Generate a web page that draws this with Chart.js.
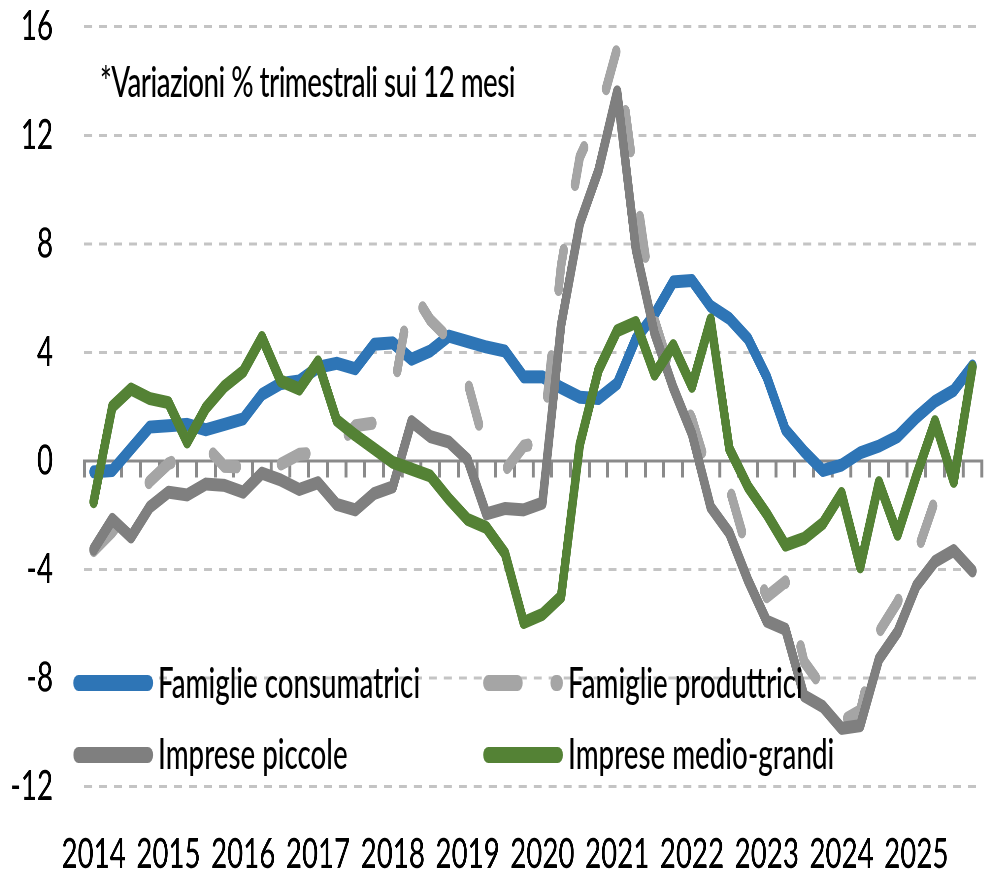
<!DOCTYPE html>
<html lang="it">
<head>
<meta charset="utf-8">
<title>Prestiti per settore</title>
<script src="https://cdn.jsdelivr.net/npm/chart.js@4.4.1/dist/chart.umd.min.js"></script>
<style>
  html, body { margin: 0; padding: 0; background: #fff; overflow: hidden; }
  /* the source image is squeezed horizontally: draw wide, then compress */
  #stage { position: absolute; left: 0; top: 0; width: 1516px; height: 874px;
           transform: scaleX(0.66); transform-origin: 0 0;
           font-family: Lato, sans-serif; font-weight: 500; color: #000; }
  #stage canvas { position: absolute; left: 0; top: 0; }
  .txt { position: absolute; font-size: 42px; line-height: 42px; white-space: nowrap; }
  #note { letter-spacing: -0.8px; }
  .swatch { position: absolute; overflow: visible; }
</style>
</head>
<body>
<div id="stage">
  <canvas id="chart" width="1516" height="874"></canvas>
  <div class="txt" id="note" style="left:151.5px; top:59.5px">*Variazioni % trimestrali sui 12 mesi</div>
  <div id="legend"></div>
</div>
<script>
(function () {
  const years = ['2014', '2015', '2016', '2017', '2018', '2019', '2020', '2021', '2022', '2023', '2024', '2025'];
  const quarters = ['T1', 'T2', 'T3', 'T4'];
  const yTicks = [-12, -8, -4, 0, 4, 8, 12, 16];

  // variazioni % sui 12 mesi, dati trimestrali 2014 T1 - 2025 T4
  const famiglieConsumatrici = [
    -0.4, -0.35, 0.45, 1.25, 1.3, 1.35, 1.15, 1.35, 1.55, 2.45, 2.85, 2.95,
    3.45, 3.6, 3.4, 4.3, 4.35, 3.75, 4.05, 4.6, 4.4, 4.2, 4.05, 3.1,
    3.1, 2.7, 2.35, 2.3, 2.85, 4.5, 5.4, 6.6, 6.65, 5.7, 5.25, 4.5,
    3.1, 1.15, 0.35, -0.35, -0.15, 0.3, 0.55, 0.9, 1.6, 2.2, 2.6, 3.5,
  ];
  const famiglieProduttrici = [
    -3.3, -2.6, -1.7, -0.75, -0.1, 0.2, 0.55, -0.2, -0.22, -0.35, -0.12, 0.25,
    0.3, 0.5, 1.3, 1.4, 2.4, 6.3, 5.2, 4.5, 2.9, 0.35, -0.35, 0.55,
    0.7, 7.2, 11.2, 12.7, 15.2, 10.0, 5.2, 3.0, 1.55, -0.7, -1.0, -3.4,
    -5.0, -4.45, -7.4, -8.35, -9.6, -9.2, -6.3, -5.2, -3.45, -1.45, -0.8, null,
  ];
  const impresePiccole = [
    -3.25, -2.15, -2.8, -1.7, -1.15, -1.25, -0.85, -0.9, -1.15, -0.45, -0.7, -1.05,
    -0.8, -1.6, -1.8, -1.2, -0.95, 1.45, 0.9, 0.7, 0.05, -1.95, -1.75, -1.8,
    -1.55, 5.0, 8.75, 10.7, 13.6, 7.8, 4.7, 2.7, 1.0, -1.7, -2.65, -4.4,
    -5.9, -6.2, -8.65, -9.05, -9.85, -9.75, -7.3, -6.3, -4.6, -3.7, -3.3, -4.05,
  ];
  const impreseMedioGrandi = [
    -1.5, 2.0, 2.65, 2.3, 2.15, 0.7, 1.95, 2.75, 3.3, 4.55, 2.95, 2.65,
    3.65, 1.5, 0.95, 0.45, -0.05, -0.3, -0.55, -1.4, -2.15, -2.45, -3.4, -5.95,
    -5.65, -5.0, 0.6, 3.35, 4.8, 5.1, 3.2, 4.25, 2.75, 5.2, 0.45, -0.95,
    -1.95, -3.1, -2.85, -2.3, -1.2, -3.9, -0.8, -2.7, -0.55, 1.45, -0.75, 3.45,
  ];

  const labels = years.flatMap((y) => quarters.map((q) => `${y} ${q}`));

  // order: the last series (green) is drawn on top, as in Excel
  const series = [
    { label: 'Famiglie consumatrici', data: famiglieConsumatrici, color: '#2e75b6', order: 4 },
    { label: 'Famiglie produttrici', data: famiglieProduttrici, color: '#a5a5a5', order: 3, dash: [40, 68] },
    { label: 'Imprese piccole', data: impresePiccole, color: '#7f7f7f', order: 2 },
    { label: 'Imprese medio-grandi', data: impreseMedioGrandi, color: '#548235', order: 1 },
  ];

  Chart.defaults.font.family = 'Lato, sans-serif';
  Chart.defaults.font.weight = 500;
  Chart.defaults.color = '#000';

  new Chart(document.getElementById('chart'), {
    type: 'line',
    data: {
      labels,
      datasets: series.map((s) => ({
        label: s.label,
        data: s.data,
        order: s.order,
        borderColor: s.color,
        backgroundColor: s.color,
        borderWidth: 13,
        borderDash: s.dash || [],
        borderCapStyle: 'round',
        borderJoinStyle: 'round',
        pointRadius: 0,
        tension: 0,
        fill: false,
      })),
    },
    options: {
      responsive: false,
      devicePixelRatio: 2,
      animation: false,
      layout: { padding: { top: 26.7, right: 4.9, bottom: 0, left: 0 } },
      plugins: { legend: { display: false }, tooltip: { enabled: false } },
      scales: {
        x: {
          offset: true,
          afterFit: (s) => { s.height = 87.3; },
          grid: { display: false, drawTicks: false },
          border: { display: false },
          ticks: {
            autoSkip: false, maxRotation: 0, minRotation: 0, padding: 42.6,
            font: { size: 42 },
            callback(value) {
              const l = this.getLabelForValue(value);
              return l.endsWith('T1') ? l.slice(0, 4) : '';
            },
          },
        },
        // asse dello zero con le tacche trimestrali
        x2: {
          axis: 'x', type: 'category', position: { y: 0 }, offset: true,
          grid: { offset: true, drawOnChartArea: false, tickLength: 15, tickWidth: 4.5, tickColor: '#8a8a8a', color: '#8a8a8a', lineWidth: 4.5 },
          border: { color: '#8a8a8a', width: 3 },
          ticks: { display: false, autoSkip: false },
        },
        y: {
          min: -12, max: 16,
          afterFit: (s) => {
            s.width = 127.7;
            // ticks.padding would otherwise be added above and below the plot
            s.paddingTop = 0;
            s.paddingBottom = 0;
          },
          afterBuildTicks: (s) => { s.ticks = yTicks.map((v) => ({ value: v })); },
          grid: {
            drawTicks: false, lineWidth: 3,
            color: (c) => (c.tick && c.tick.value === 0 ? 'rgba(0,0,0,0)' : '#c4c4c4'),
          },
          border: { display: false, dash: [12.1, 10.6] },
          ticks: { padding: 47.4, font: { size: 42 } },
        },
      },
    },
  });

  // legenda su due colonne dentro l'area del grafico
  const cols = [{ sw: 110.6, tx: 239.4 }, { sw: 731.8, tx: 860.6 }];
  const rows = [{ mid: 683.3, base: 698.3 }, { mid: 755, base: 769.3 }];
  document.getElementById('legend').innerHTML = series.map((s, i) => {
    const c = cols[i % 2], r = rows[Math.floor(i / 2)];
    const dash = s.dash ? ' stroke-dasharray="44 58"' : '';
    return `<svg class="swatch" width="122" height="20" style="left:${c.sw}px; top:${r.mid - 10}px">
        <line x1="8" y1="10" x2="113" y2="10" stroke="${s.color}" stroke-width="16" stroke-linecap="round"${dash}/>
      </svg>
      <div class="txt" style="left:${c.tx}px; top:${r.base - 37.25}px">${s.label}</div>`;
  }).join('');
})();
</script>
</body>
</html>
